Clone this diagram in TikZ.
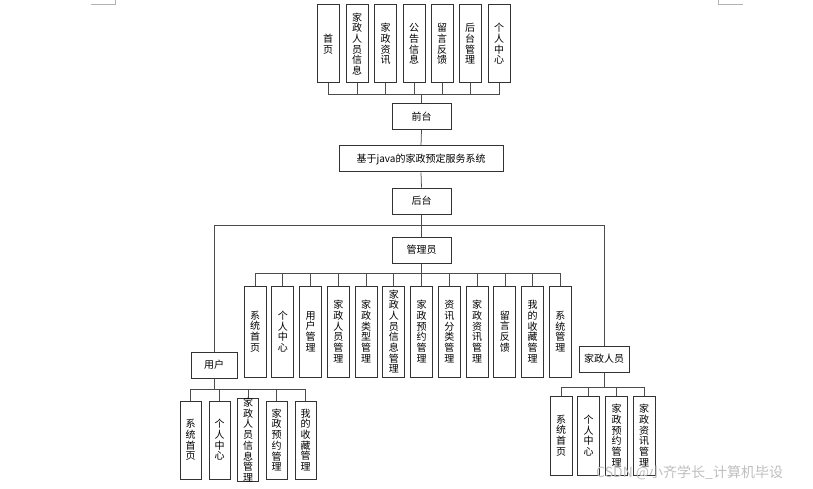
\documentclass[tikz,border=0pt]{standalone}
\usepackage{fontspec}
\newfontfamily\cjk{Noto Sans CJK SC}
\begin{document}
\begin{tikzpicture}[x=1pt,y=-1pt,
  box/.style={draw=black!80,line width=1pt,fill=white,inner sep=0pt,
    font=\cjk\fontsize{10}{10.7}\selectfont,align=center},
  vbox/.style={box,minimum width=22pt},
  hbox/.style={box,minimum height=26pt},
  link/.style={draw=black!70,line width=0.75pt},
  cornermark/.style={draw=black!30,line width=0.6pt}]
\useasboundingbox (0,0) rectangle (813,489);
\fill[white] (0,0) rectangle (813,489);
% page corner marks
\draw[cornermark] (91,4) -- (115,4) -- (115,0);
\draw[cornermark] (718,0) -- (718,4) -- (743,4);

% top row
\node[vbox,minimum height=78pt] (t1) at (328,44) {首\\页};
\node[vbox,minimum height=78pt] (t2) at (357,44) {家\\政\\人\\员\\信\\息};
\node[vbox,minimum height=78pt] (t3) at (385.5,44) {家\\政\\资\\讯};
\node[vbox,minimum height=78pt] (t4) at (414,44) {公\\告\\信\\息};
\node[vbox,minimum height=78pt] (t5) at (442,44) {留\\言\\反\\馈};
\node[vbox,minimum height=78pt] (t6) at (470,44) {后\\台\\管\\理};
\node[vbox,minimum height=78pt] (t7) at (499,44) {个\\人\\中\\心};
\coordinate (tb) at (421.5,94);
\foreach \i in {1,...,7} \draw[link] (t\i.south) |- (tb);

\node[hbox,minimum width=59pt] (qt) at (421.5,116.5) {前台};
\node[hbox,minimum width=164pt] (sys) at (421,159) {基于java的家政预定服务系统};
\node[hbox,minimum width=59pt] (ht) at (421.5,201) {后台};
\node[hbox,minimum width=59pt] (gl) at (421.5,250) {管理员};
\draw[link] (tb) -- (qt.north);
\draw[link] (qt.south) -- (sys.north);
\draw[link] (sys.south) -- (ht.north);
\draw[link] (ht.south) -- (gl.north);

\node[hbox,minimum width=46pt] (yh) at (214,365) {用户};
\node[hbox,minimum width=50pt] (jz) at (604,359) {家政人员};
\coordinate (hj) at (421.5,225);
\draw[link] (yh.north) |- (hj);
\draw[link] (jz.north) |- (hj);

% admin row
\coordinate (ab) at (421.5,273);
\draw[link] (gl.south) -- (ab);
\foreach \i/\t in {0/{系\\统\\首\\页},1/{个\\人\\中\\心},2/{用\\户\\管\\理},
  3/{家\\政\\人\\员\\管\\理},4/{家\\政\\类\\型\\管\\理},5/{家\\政\\人\\员\\信\\息\\管\\理},
  6/{家\\政\\预\\约\\管\\理},7/{资\\讯\\分\\类\\管\\理},8/{家\\政\\资\\讯\\管\\理},
  9/{留\\言\\反\\馈},10/{我\\的\\收\\藏\\管\\理},11/{系\\统\\管\\理}} {
  \node[vbox,minimum height=91pt] (a\i) at (255+27.77*\i,331.5) {\t};
  \draw[link] (a\i.north) |- (ab);
}

% user row
\coordinate (ub) at (214,389);
\draw[link] (yh.south) -- (ub);
\foreach \i/\x/\t in {1/190.5/{系\\统\\首\\页},2/219.5/{个\\人\\中\\心},
  3/248/{家\\政\\人\\员\\信\\息\\管\\理},4/276.5/{家\\政\\预\\约\\管\\理},
  5/305.5/{我\\的\\收\\藏\\管\\理}} {
  \node[vbox,minimum width=21pt,minimum height=78pt] (u\i) at (\x,440) {\t};
  \draw[link] (u\i.north) |- (ub);
}

% staff row
\coordinate (sb) at (604,387);
\draw[link] (jz.south) -- (sb);
\foreach \i/\x/\t in {1/561/{系\\统\\首\\页},2/588.5/{个\\人\\中\\心},
  3/616.5/{家\\政\\预\\约\\管\\理},4/644/{家\\政\\资\\讯\\管\\理}} {
  \node[vbox,minimum height=79pt] (s\i) at (\x,435.5) {\t};
  \draw[link] (s\i.north) |- (sb);
}

% watermark
\node[anchor=west,inner sep=0pt,text=black!25,font=\cjk\fontsize{14}{14}\selectfont] (wm) at (596,473) {CSDN @小齐学长\_计算机毕设};
\end{tikzpicture}
\end{document}
